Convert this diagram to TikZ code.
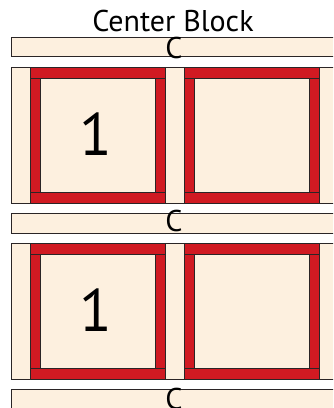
\documentclass[tikz,border=0pt]{standalone}
\usepackage{fontspec}
\setmainfont{PT Sans}
\definecolor{cream}{HTML}{FDF0DF}
\definecolor{qred}{HTML}{D01A22}
\definecolor{edge}{HTML}{2A2526}
\begin{document}
\begin{tikzpicture}[x=1pt,y=-1pt,
  piece/.style={draw=edge,line width=1pt},
  sash/.style={piece,fill=cream},
  band/.style={piece,fill=qred},
  bigtext/.style={font=\fontsize{30}{32}\selectfont,anchor=base,inner sep=0pt},
  numtext/.style={font=\fontsize{60}{62}\selectfont,anchor=base,inner sep=0pt}]
\useasboundingbox (0,0) rectangle (333,408);
\clip (0,0) rectangle (333,408);
\newcommand\redblock[2]{%
  \draw[sash] (#1+10,#2+11) rectangle (#1+125,#2+125);
  \draw[band] (#1,#2) rectangle (#1+135,#2+11);
  \draw[band] (#1,#2+125) rectangle (#1+135,#2+136);
  \draw[band] (#1,#2+11) rectangle (#1+10,#2+125);
  \draw[band] (#1+125,#2+11) rectangle (#1+135,#2+125);
}
% strips
\draw[sash] (11,37) rectangle (345,56);
\draw[sash] (11,213) rectangle (345,233);
\draw[sash] (11,389) rectangle (345,415);
% rows
\foreach \yy in {67,243}{
  \draw[sash] (11,\yy) rectangle (30,\yy+136);
  \draw[sash] (165,\yy) rectangle (184,\yy+136);
  \draw[sash] (319,\yy) rectangle (345,\yy+136);
  \redblock{30}{\yy}
  \redblock{184}{\yy}
}
\node[bigtext] (title) at (173,31) {Center Block};
\node[bigtext] (c1) at (174,58.5) {C};
\node[bigtext] (c2) at (174,231.5) {C};
\node[bigtext] (c3) at (174,409) {C};
\node[numtext] (n1) at (96,155) {1};
\node[numtext] (n2) at (96,331) {1};
\end{tikzpicture}
\end{document}
